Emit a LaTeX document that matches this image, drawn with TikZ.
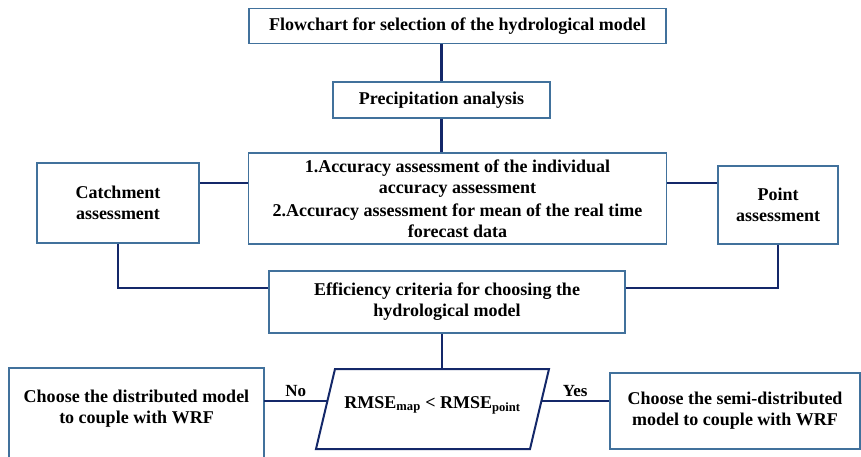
\documentclass[tikz,border=0pt]{standalone}
\usepackage{fontspec}
\setmainfont{Liberation Serif}
\usetikzlibrary{calc}
\definecolor{BoxBlue}{RGB}{65,113,156}
\definecolor{LinkNavy}{RGB}{20,40,105}

\begin{document}
\begin{tikzpicture}[
    x=1pt, y=-1pt,
    font=\fontsize{18}{21}\selectfont\bfseries,
    box/.style={draw=BoxBlue, line width=1.8pt, fill=white, align=center, inner sep=2pt},
    frame/.style={draw=BoxBlue, line width=1.8pt},
    decision/.style={draw=LinkNavy, line width=2pt},
    link/.style={draw=LinkNavy, line width=2.2pt},
    tag/.style={font=\fontsize{17}{19}\selectfont\bfseries, inner sep=3pt}
  ]
  \useasboundingbox (0,0) rectangle (861,456);

  \node[box, minimum width=417pt, minimum height=35pt] (title) at (457.5,26) {Flowchart for selection of the hydrological model};
  \node[box, minimum width=217pt, minimum height=36pt] (precip) at (441.5,100) {Precipitation analysis};
  \node[box, minimum width=418pt, minimum height=91pt] (acc) at (457.5,198.5) {1.Accuracy assessment of the individual\\accuracy assessment\\[2pt]2.Accuracy assessment for mean of the real time\\forecast data};
  \node[box, minimum width=162pt, minimum height=80pt] (catch) at (118,203) {Catchment\\assessment};
  \node[box, minimum width=120pt, minimum height=78pt] (point) at (778,205) {Point\\assessment};
  \node[box, minimum width=356pt, minimum height=62pt] (effic) at (447,302) {Efficiency criteria for choosing the\\hydrological model};

  % decision parallelogram
  \coordinate (critNW) at (335,369);
  \coordinate (critNE) at (549,369);
  \coordinate (critSE) at (530,449);
  \coordinate (critSW) at (316,449);
  \coordinate (critTop) at ($(critNW)!0.5!(critNE)$);
  \coordinate (noEnd) at ($(critSW)!0.6!(critNW)$);
  \coordinate (yesEnd) at ($(critSE)!0.6!(critNE)$);
  \draw[decision] (critNW) -- (critNE) -- (critSE) -- (critSW) -- cycle;
  \node (crit) at (432.5,405) {RMSE\textsubscript{map} < RMSE\textsubscript{point}};

  % outcome boxes (left one runs off the page)
  \node[box, draw=none, minimum width=253pt, minimum height=80pt] (dist) at (136.5,409) {Choose the distributed model\\to couple with WRF};
  \draw[frame] ([yshift=-20pt]dist.south west) |- (dist.north east) -- ([yshift=-20pt]dist.south east);
  \node[box, minimum width=250pt, minimum height=76pt] (semi) at (735,411) {Choose the semi-distributed\\model to couple with WRF};

  \draw[link] (title.south -| precip.north) -- (precip.north);
  \draw[link] (precip.south) -- (precip.south |- acc.north);
  \draw[link] ([yshift=15.5pt]acc.west) -- ([yshift=15.5pt]acc.west -| catch.east);
  \draw[link] ([yshift=15.5pt]acc.east) -- ([yshift=15.5pt]acc.east -| point.west);
  \draw[link] (catch.south) |- ([yshift=14pt]effic.west);
  \draw[link] (point.south) |- ([yshift=14pt]effic.east);
  \draw[link] (critTop) -- (critTop |- effic.south);
  \draw[link] (noEnd) -- (noEnd -| dist.east) node[tag, midway, above] {No};
  \draw[link] (yesEnd) -- (yesEnd -| semi.west) node[tag, midway, above] {Yes};
\end{tikzpicture}
\end{document}
